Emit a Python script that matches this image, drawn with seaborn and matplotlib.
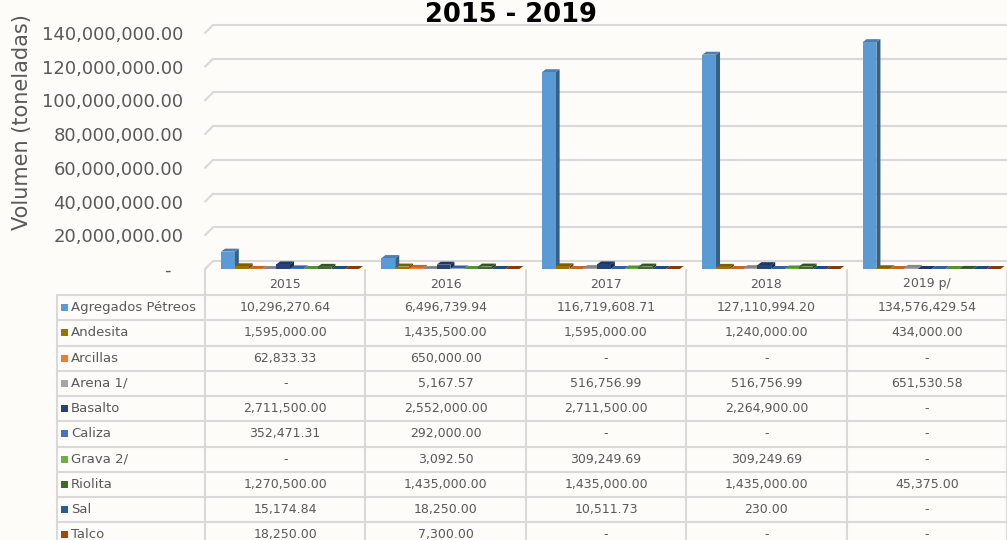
import numpy as np
import pandas as pd
import seaborn as sns
import matplotlib
matplotlib.use("Agg")
import matplotlib.pyplot as plt
from matplotlib.patches import Polygon, Rectangle
from matplotlib.lines import Line2D

# ---------------- data ----------------
years = ["2015", "2016", "2017", "2018", "2019 p/"]
materials = ["Agregados Pétreos", "Andesita", "Arcillas", "Arena 1/", "Basalto",
             "Caliza", "Grava 2/", "Riolita", "Sal", "Talco"]
agregados = [10296270.64, 6496739.94, 116719608.71, 127110994.20, 134576429.54]
andesita = [1595000.00, 1435500.00, 1595000.00, 1240000.00, 434000.00]
arcillas = [62833.33, 650000.00, 0, 0, 0]
arena = [0, 5167.57, 516756.99, 516756.99, 651530.58]
basalto = [2711500.00, 2552000.00, 2711500.00, 2264900.00, 0]
caliza = [352471.31, 292000.00, 0, 0, 0]
grava = [0, 3092.50, 309249.69, 309249.69, 0]
riolita = [1270500.00, 1435000.00, 1435000.00, 1435000.00, 45375.00]
sal = [15174.84, 18250.00, 10511.73, 230.00, 0]
talco = [18250.00, 7300.00, 0, 0, 0]
series = [agregados, andesita, arcillas, arena, basalto, caliza, grava, riolita, sal, talco]
colors = ["#5B9BD5", "#997300", "#ED7D31", "#A5A5A5", "#264478",
          "#4472C4", "#70AD47", "#43682B", "#255E91", "#9E480E"]
yticks = [0, 20e6, 40e6, 60e6, 80e6, 100e6, 120e6, 140e6]

df = pd.DataFrame([(y, m, s[i]) for m, s in zip(materials, series) for i, y in enumerate(years)],
                  columns=["year", "material", "value"])

# ---------------- figure ----------------
W, H = 1007, 540
sns.set_style("white")
plt.rcParams["font.family"] = ["DejaVu Sans"]
fig = plt.figure(figsize=(W / 100, H / 100), dpi=100)
fig.patch.set_facecolor("#FDFCF9")
TXT = "#595959"

def fx(px):
    return px / W

def fy(py):
    return 1 - py / H

AX_L, AX_R, Y0, YT = 205, 1007, 269, 33
ax = fig.add_axes([fx(AX_L), fy(Y0), (AX_R - AX_L) / W, (Y0 - YT) / H])
ax.set_facecolor("none")

sns.barplot(data=df, x="year", y="value", hue="material", order=years, hue_order=materials,
            palette=colors, width=0.86, saturation=1, legend=False, ax=ax,
            linewidth=0, errorbar=None)

XL = (-0.53, 4.47)
ax.set_xlim(*XL)
ax.set_ylim(0, 140e6)
ppx = (AX_R - AX_L) / (XL[1] - XL[0])
ppy = (Y0 - YT) / 140e6

# 3D faces for bars
bdx, bdy = 4 / ppx, 3 / ppy
patches = sorted(list(ax.patches), key=lambda p: p.get_x())
for rank, p in enumerate(patches):
    x0, w, h = p.get_x(), p.get_width(), p.get_height()
    x1 = x0 + w
    c = np.array(matplotlib.colors.to_rgb(p.get_facecolor()))
    z = 2 + rank * 0.01
    p.set_zorder(z + 0.005)
    side = Polygon([(x1, 0), (x1, h), (x1 + bdx, h + bdy), (x1 + bdx, bdy)],
                   closed=True, facecolor=c * 0.62, edgecolor="none", zorder=z)
    top = Polygon([(x0, h), (x1, h), (x1 + bdx, h + bdy), (x0 + bdx, h + bdy)],
                  closed=True, facecolor=c * 0.82, edgecolor="none", zorder=z + 0.001)
    ax.add_patch(side)
    ax.add_patch(top)

# back-wall gridlines with 3D offset
gdx, gdy = 8 / ppx, 8 / ppy
for v in yticks:
    ax.add_line(Line2D([XL[0] + gdx, XL[1] + gdx * 2], [v + gdy, v + gdy], color="#D9D9D9",
                       lw=1.5, zorder=1, clip_on=False))
    ax.add_line(Line2D([XL[0], XL[0] + gdx], [v, v + gdy], color="#D9D9D9",
                       lw=1.5, zorder=1, clip_on=False))

ax.set_yticks(yticks)
ax.set_yticklabels(["-  " if v == 0 else f"{v:,.2f}" for v in yticks])
ax.tick_params(axis="y", length=0, pad=15.5, labelsize=13, labelcolor=TXT)
ax.set_xticks([])
ax.set_xlabel("")
ax.set_ylabel("")
for s in ax.spines.values():
    s.set_visible(False)

fig.text(fx(22), fy(122), "Volumen (toneladas)", rotation=90, ha="center", va="center",
         fontsize=15, color=TXT)
fig.text(fx(511), fy(22), "2015 - 2019", ha="center", va="baseline", fontsize=18.5,
         fontweight="bold", color="black")

# ---------------- data table ----------------
tax = fig.add_axes([0, 0, 1, 1], zorder=5)
tax.set_xlim(0, W)
tax.set_ylim(H, 0)
tax.axis("off")
tax.patch.set_alpha(0)
LC = "#D9D9D9"
col_edges = [AX_L + (AX_R - AX_L) / 5 * k for k in range(6)]
row_top, row_h = 295, 25.25
for k in range(11):
    y = row_top + k * row_h
    tax.add_line(Line2D([57, AX_R], [y, y], color=LC, lw=1.5))
tax.add_line(Line2D([57, 57], [row_top, H + 5], color=LC, lw=1.5))
for xe in col_edges:
    tax.add_line(Line2D([xe, xe], [270, H + 5], color=LC, lw=1.5))

for j, yr in enumerate(years):
    cx = (col_edges[j] + col_edges[j + 1]) / 2
    tax.text(cx, 284, yr, ha="center", va="center", fontsize=9, color=TXT)

for i, (m, s, c) in enumerate(zip(materials, series, colors)):
    yc = row_top + (i + 0.5) * row_h
    tax.add_patch(Rectangle((61, yc - 3.5), 7, 7, facecolor=c, edgecolor="none"))
    tax.text(71, yc, m, ha="left", va="center", fontsize=9.5, color=TXT)
    for j, v in enumerate(s):
        cx = (col_edges[j] + col_edges[j + 1]) / 2
        tax.text(cx, yc, "-" if v == 0 else f"{v:,.2f}", ha="center", va="center",
                 fontsize=9, color=TXT)

fig.savefig("out.png", dpi=100, facecolor=fig.get_facecolor())
